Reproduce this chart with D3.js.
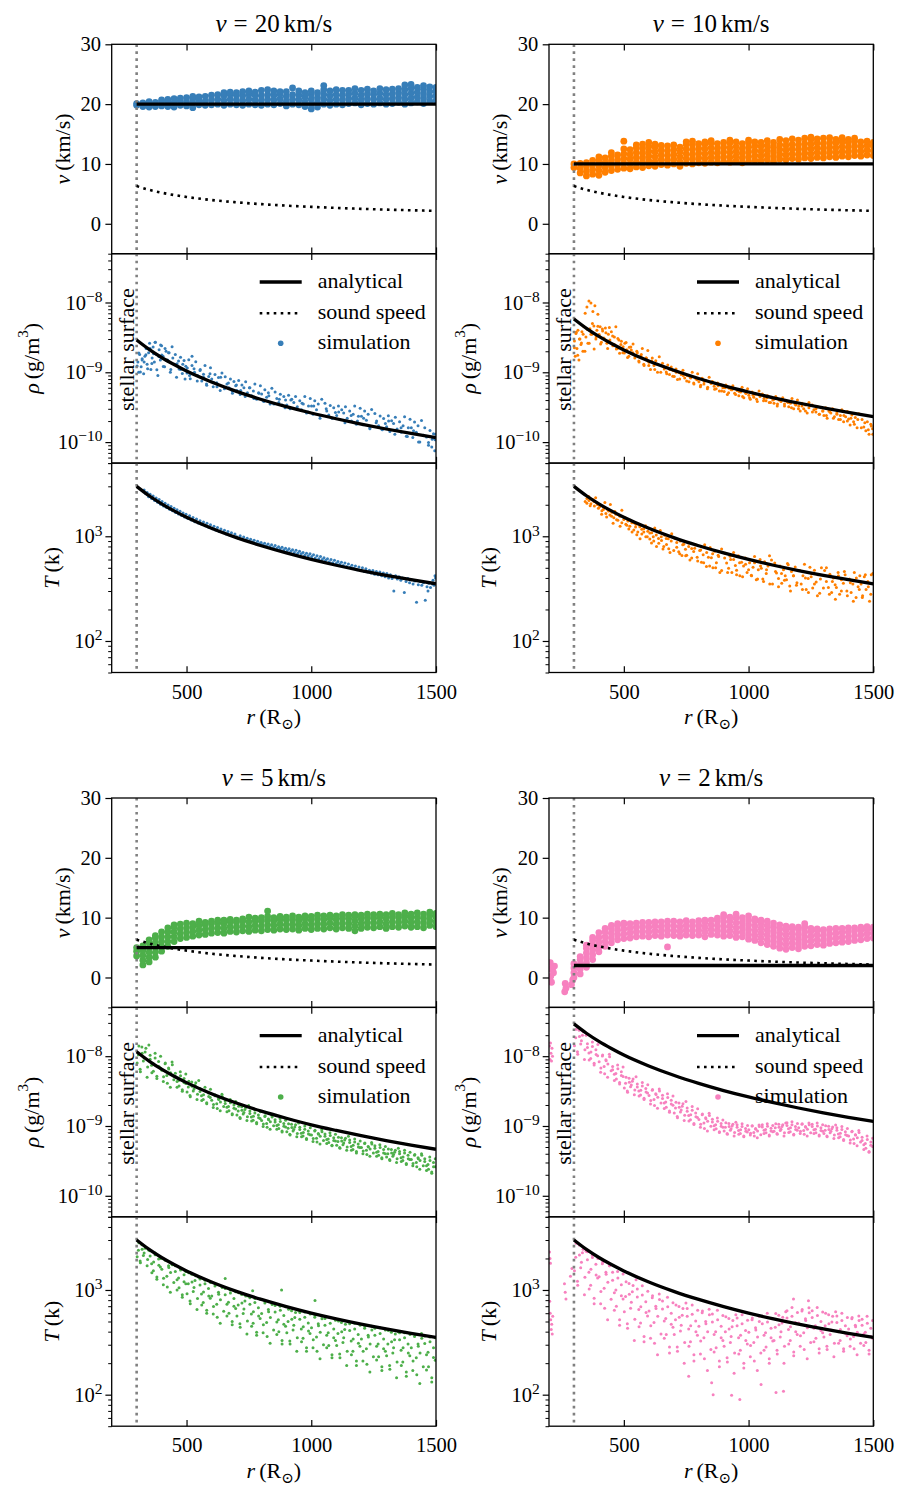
<!DOCTYPE html>
<html><head><meta charset="utf-8">
<script src="https://cdn.jsdelivr.net/npm/d3@7"></script>
<style>
body{margin:0;background:#fff}
text{font-family:"Liberation Serif","DejaVu Serif",serif;fill:#000}
</style></head>
<body><svg id="chart" width="900" height="1500"></svg>
<script>
// ---------------- DATA ----------------
const panelSpeeds = [20, 10, 5, 2];            // km/s
const panelColors = ["#377eb8", "#ff7f00", "#4daf4a", "#f781bf"];
const xTicks = [500, 1000, 1500];
const vTicks = [0, 10, 20, 30];
const rhoTicks = [1e-10, 1e-9, 1e-8];
const tTicks = [100, 1000];
const RHO_UNIT = 1e-9;   // density arrays are in units of 1e-9 g/m^3
const surfaceR = 300;

// analytical curves
const anR = [300,350,400,450,500,600,700,800,900,1000,1100,1200,1300,1400,1500];
const rhoAn20 = [2.9,2.13,1.63,1.29,1.04,0.725,0.533,0.408,0.322,0.261,0.216,0.181,0.154,0.133,0.116];
const rhoAn10 = [5.8,4.26,3.26,2.58,2.09,1.45,1.07,0.816,0.644,0.522,0.431,0.363,0.309,0.266,0.232];
const rhoAn5  = [11.6,8.52,6.52,5.16,4.18,2.9,2.13,1.63,1.29,1.04,0.863,0.725,0.618,0.533,0.464];
const rhoAn2  = [29,21.3,16.3,12.9,10.4,7.25,5.33,4.08,3.22,2.61,2.16,1.81,1.54,1.33,1.16];
const tAn  = [3000,2439,2043,1749,1521,1193,971,812,693,601,529,471,424,385,352];
const csAn = [6.3,5.68,5.2,4.81,4.49,3.97,3.59,3.28,3.03,2.83,2.65,2.5,2.37,2.26,2.16];

// simulated velocity: radius columns and the velocities seen in each column
const R_COLS = [300,325,350,375,400,425,450,475,500,525,550,575,600,625,650,675,700,725,750,775,800,825,850,875,900,925,950,975,1000,1025,1050,1075,1100,1125,1150,1175,1200,1225,1250,1275,1300,1325,1350,1375,1400,1425,1450,1475,1500];
const vSim20 = [[19.8,20.1],[19.6,20.2],[19.5,20.1,20.4],[19.6,20.3],[19.7,20.4,20.7],[19.6,20.3,20.8],[19.5,20.2,20.9],[19.8,20.5,21.0],[19.7,20.4,21.1],[19.4,20.2,20.9,21.3],
[19.9,20.6,21.2],[19.8,20.5,21.3],[19.9,20.7,21.5],[20.0,20.8,21.6],[19.8,20.6,21.4,21.9],[20.0,20.8,21.6,22.0],[19.9,20.7,21.5,21.9],[19.8,20.6,21.4,22.1],[20.0,20.8,21.6,22.2],[19.9,20.7,21.5,22.0],
[19.8,20.6,21.4,22.3],[20.0,20.8,21.6,22.4],[19.9,20.7,21.5,22.2],[20.1,20.9,21.7,22.1],[19.7,20.5,21.3,22.1],[20.0,20.8,21.6,22.7],[19.9,20.7,21.5,22.2],[19.6,20.4,21.2,21.9],[19.2,20.0,20.8,21.6,22.2],[19.5,20.3,21.1,21.9],
[20.0,20.8,21.6,22.4,23.1],[19.8,20.6,21.4,22.2],[20.0,20.8,21.6,22.4],[19.9,20.7,21.5,22.3],[20.1,20.9,21.7,22.3],[20.2,21.0,21.8,22.6],[19.9,20.7,21.5,22.3],[20.1,20.9,21.7,22.5],[20.0,20.8,21.6,22.2],[20.2,21.0,21.8,22.6],
[20.0,20.8,21.6,22.4],[20.1,20.9,21.7,22.5],[20.3,21.1,21.9,22.6],[20.0,20.8,21.6,22.4,23.2],[20.2,21.0,21.8,22.6,23.3],[20.4,21.2,22.0,22.8],[20.1,20.9,21.7,22.5,23.1],[20.5,21.3,22.1,22.9],[20.6,21.4,22.2,22.8]];
const vSim10 = [[9.4,10.0],[8.5,9.3,10.1],[8.0,8.8,9.6,10.2],[8.3,9.1,9.9,10.6],[8.1,8.9,9.7,10.5,11.2],[8.6,9.4,10.2,11.0],[8.9,9.7,10.5,11.3,11.9],[9.1,9.9,10.7,11.5],[9.3,10.1,10.9,11.7,12.5,13.8],[9.2,10.0,10.8,11.6,12.4],
[9.5,10.3,11.1,11.9,12.7,13.2],[9.4,10.2,11.0,11.8,12.6,13.3],[9.7,10.5,11.3,12.1,12.9,13.6],[9.6,10.4,11.2,12.0,12.8,13.3],[9.9,10.7,11.5,12.3,13.1],[9.8,10.6,11.4,12.2,13.0],[10.0,10.8,11.6,12.4,13.2],[9.6,10.4,11.2,12.0,12.8],[10.1,10.9,11.7,12.5,13.3,13.7],[10.0,10.8,11.6,12.4,13.2,13.8],
[10.2,11.0,11.8,12.6,13.4],[10.1,10.9,11.7,12.5,13.3,13.7],[10.3,11.1,11.9,12.7,13.5,13.9],[10.2,11.0,11.8,12.6,13.4],[10.4,11.2,12.0,12.8,13.6],[10.3,11.1,11.9,12.7,13.5,14.0],[10.5,11.3,12.1,12.9,13.7],[10.2,11.0,11.8,12.6,13.4],[10.4,11.2,12.0,12.8,13.6,14.0],[10.6,11.4,12.2,13.0,13.7],
[10.5,11.3,12.1,12.9,13.6],[10.7,11.5,12.3,13.1,13.9],[10.4,11.2,12.0,12.8,13.6],[10.8,11.6,12.4,13.2,14.1],[10.7,11.5,12.3,13.1,13.9],[10.9,11.7,12.5,13.3,14.2],[10.8,11.6,12.4,13.2,14.0],[11.0,11.8,12.6,13.4,14.3],[10.9,11.7,12.5,13.3,14.1,14.5],[11.1,11.9,12.7,13.5,14.2],
[11.0,11.8,12.6,13.4,14.3],[11.2,12.0,12.8,13.6,14.4],[11.1,11.9,12.7,13.5,14.1],[11.3,12.1,12.9,13.7,14.4],[11.2,12.0,12.8,13.6,14.1],[11.4,12.2,13.0,13.8,14.3],[11.3,12.1,12.9,13.7],[11.5,12.3,13.1,13.8],[11.4,12.2,13.0,13.6]];
const vSim5 = [[3.6,4.4,5.0],[2.1,2.9,3.7,4.5,5.3],[2.6,3.4,4.2,5.0,5.8,6.3],[3.4,4.2,5.0,5.8,6.6,7.0],[4.4,5.2,6.0,6.8,7.6],[5.2,6.0,6.8,7.6,8.3],[6.0,6.8,7.6,8.4,8.8],[6.5,7.3,8.1,8.9],[6.7,7.5,8.3,9.1],[6.9,7.7,8.5,9.0],
[7.1,7.9,8.7,9.4],[7.2,8.0,8.8,9.2],[7.4,8.2,9.0,9.4],[7.5,8.3,9.1,9.6],[7.4,8.2,9.0,9.6],[7.7,8.5,9.3,9.7],[7.6,8.4,9.2,9.6],[7.8,8.6,9.4,9.8],[7.7,8.5,9.3,10.1],[7.9,8.7,9.5,9.9],
[7.8,8.6,9.4,10.0],[8.0,8.8,9.6,10.2,11.1],[7.9,8.7,9.5,10.0],[8.1,8.9,9.7,10.2],[8.0,8.8,9.6,10.1],[8.1,8.9,9.7,10.3],[7.9,8.7,9.5,10.1],[8.2,9.0,9.8,10.3],[8.0,8.8,9.6,10.2],[8.2,9.0,9.8,10.4],
[8.1,8.9,9.7,10.3],[8.3,9.1,9.9,10.4],[8.1,8.9,9.7,10.3],[8.3,9.1,9.9,10.5],[8.2,9.0,9.8,10.4],[7.8,8.6,9.4,10.2,10.5],[8.2,9.0,9.8,10.4],[8.4,9.2,10.0,10.6],[8.3,9.1,9.9,10.5],[8.5,9.3,10.1,10.6],
[8.2,9.0,9.8,10.5],[8.5,9.3,10.1,10.7],[8.4,9.2,10.0,10.5],[8.6,9.4,10.2,10.8],[8.4,9.2,10.0,10.6],[8.5,9.3,10.1,10.8],[8.3,9.1,9.9,10.6],[8.7,9.5,10.3,10.9],[8.5,9.3,10.1,10.7]];
const vSim2 = [[0.0,0.8,1.6,2.3],[0.6,1.4,2.2,3.0,3.5],[1.7,2.5,3.3,4.1,4.9,5.4],[3.0,3.8,4.6,5.4,6.2,6.7],[4.3,5.1,5.9,6.7,7.5],[5.2,6.0,6.8,7.6,8.2],[5.8,6.6,7.4,8.2,8.7],[6.3,7.1,7.9,8.7,9.0],[6.5,7.3,8.1,8.9,9.1],[6.6,7.4,8.2,9.0],
[6.8,7.6,8.4,9.1],[6.9,7.7,8.5,9.2],[6.8,7.6,8.4,9.2],[7.0,7.8,8.6,9.3],[6.9,7.7,8.5,9.3],[5.1,7.1,7.9,8.7,9.4],[7.0,7.8,8.6,9.4],[6.9,7.7,8.5,9.3],[7.1,7.9,8.7,9.5],[7.0,7.8,8.6,9.3],
[7.1,7.9,8.7,9.5],[6.8,7.6,8.4,9.2,9.6],[7.2,8.0,8.8,9.6],[7.1,7.9,8.7,9.5,9.9],[6.9,7.7,8.5,9.3,10.1,10.5],[7.0,7.8,8.6,9.4,10.1],[6.7,7.5,8.3,9.1,9.9,10.6],[6.8,7.6,8.4,9.2,10.0],[6.4,7.2,8.0,8.8,9.6,10.3],[6.2,7.0,7.8,8.6,9.4,9.8],
[5.8,6.6,7.4,8.2,9.0,9.6],[5.5,6.3,7.1,7.9,8.7,9.4],[5.2,6.0,6.8,7.6,8.4,9.1],[4.9,5.7,6.5,7.3,8.1,8.8],[4.7,5.5,6.3,7.1,7.9,8.6],[5.0,5.8,6.6,7.4,8.2,8.5],[4.8,5.6,6.4,7.2,8.0,8.4],[5.2,6.0,6.8,7.6,8.4,9.0],[5.3,6.1,6.9,7.7,8.2],[5.5,6.3,7.1,7.9,8.1],
[5.4,6.2,7.0,7.8,8.0],[5.7,6.5,7.3,8.1],[5.8,6.6,7.4,8.2],[5.9,6.7,7.5,8.2],[6.0,6.8,7.6,8.3],[6.2,7.0,7.8,8.3],[6.3,7.1,7.9,8.4],[6.5,7.3,8.0,8.5],[6.6,7.4,8.1,8.4]];
const vSim2Inner = [[205,2.5],[205,1.4],[207,0.2],[210,-0.8],[215,1.6],[218,0.8],[222,1.9],[265,-1.0],[263,-2.4],[268,-1.8],[290,-1.2],[295,-0.4]];

// simulated density [r, rho / 1e-9]
const rhoSim20 = [[305,1.4],[308,1.0],[312,1.8],[318,1.2],[322,1.5],[328,0.95],[333,1.7],[338,2.2],[342,1.3],[348,1.9],[352,2.6],[357,1.1],[362,1.6],[366,2.3],[371,1.4],[375,2.7],[380,1.8],[385,0.9],[390,2.1],[395,1.5],[400,2.4],[406,1.7],[412,1.2],[418,2.0],[424,1.5],[430,1.9],[437,1.1],[445,1.6],[452,1.3],[460,0.85],[468,1.45],[476,1.1],[485,1.3],[494,0.8],[503,1.15],[512,0.9],[522,1.7],[532,1.0],[543,0.75],[555,1.1],[568,0.85],[580,0.68],[594,0.95],[608,0.72],[622,0.62],[637,0.85],[652,0.58],[668,0.7],[684,0.5],[700,0.66],[717,0.55],[735,0.45],[752,0.6],[770,0.42],[790,0.5],[810,0.38],[830,0.46],[850,0.35],[872,0.41],[895,0.31],[918,0.4],[940,0.3],[963,0.36],[987,0.27],[1010,0.33],[1035,0.24],[1060,0.3],[1085,0.22],[1110,0.27],[1135,0.19],[1160,0.24],[1185,0.2],[1210,0.22],[1235,0.16],[1260,0.19],[1285,0.15],[1310,0.2],[1335,0.13],[1360,0.16],[1385,0.12],[1410,0.145],[1430,0.1],[1450,0.125],[1470,0.09],[1485,0.11],[1495,0.075],[1498,0.13],
[302,1.23],[309,1.89],[315,1.01],[322,1.56],[330,1.4],[337,1.78],[344,1.12],[354,2.19],[361,1.34],[368,1.85],[374,2.7],[381,1.09],[389,1.68],[396,2.45],[401,1.77],[407,1.21],[414,2.19],[421,1.49],[428,1.91],[435,1.0],[442,2.33],[455,1.8],[462,1.32],[470,1.11],[476,1.64],[483,0.96],[490,1.48],[497,1.22],
[502,0.98],[509,1.51],[515,0.81],[522,1.25],[530,1.12],[537,1.42],[544,0.9],[554,1.06],[561,0.75],[568,0.94],[574,1.25],[581,0.65],[589,0.87],[596,1.16],[601,0.8],[607,0.62],[614,0.93],[621,0.71],[628,0.84],[635,0.55],[642,0.98],[655,0.86],[662,0.68],[670,0.6],[676,0.8],[683,0.54],[690,0.74],[697,0.64],
[702,0.55],[709,0.76],[715,0.48],[722,0.66],[730,0.6],[737,0.73],[744,0.51],[754,0.6],[761,0.46],[768,0.54],[774,0.68],[781,0.41],[789,0.51],[796,0.64],[801,0.49],[807,0.39],[814,0.56],[821,0.44],[828,0.51],[835,0.35],[842,0.59],[855,0.52],[862,0.42],[870,0.37],[876,0.485],[883,0.34],[890,0.45],[897,0.4],
[902,0.34],[909,0.47],[915,0.3],[922,0.41],[930,0.37],[937,0.45],[944,0.32],[954,0.39],[961,0.29],[968,0.35],[974,0.45],[981,0.26],[989,0.33],[996,0.42],[1001,0.33],[1007,0.25],[1014,0.39],[1021,0.29],[1028,0.35],[1035,0.22],[1042,0.41],[1055,0.36],[1062,0.28],[1070,0.245],[1076,0.335],[1083,0.22],[1090,0.31],[1097,0.265],
[1102,0.24],[1109,0.33],[1115,0.21],[1122,0.29],[1130,0.26],[1137,0.32],[1144,0.22],[1154,0.28],[1161,0.2],[1168,0.25],[1174,0.33],[1181,0.18],[1189,0.235],[1196,0.305],[1201,0.235],[1207,0.177],[1214,0.278],[1221,0.206],[1228,0.25],[1235,0.155],[1242,0.293],[1255,0.257],[1262,0.2],[1270,0.172],[1276,0.237],[1283,0.153],[1290,0.218],[1297,0.185],
[1302,0.166],[1309,0.238],[1315,0.142],[1322,0.202],[1330,0.184],[1337,0.226],[1344,0.154],[1354,0.196],[1361,0.138],[1368,0.172],[1374,0.23],[1381,0.121],[1389,0.161],[1396,0.213],[1401,0.16],[1407,0.116],[1414,0.194],[1421,0.138],[1428,0.171],[1435,0.1],[1442,0.204],[1455,0.16],[1462,0.118],[1470,0.099],[1476,0.146],[1483,0.085],[1490,0.132],[1497,0.108]];
const rhoSim10 = [[302,2.8],[305,1.7],[308,3.6],[312,2.2],[316,4.0],[320,1.5],[324,3.0],[328,2.5],[332,3.8],[336,2.0],[340,4.5],[345,7.0],[348,3.2],[352,8.6],[356,2.6],[360,10.5],[364,4.2],[368,9.8],[372,3.5],[376,7.4],[380,4.6],[384,9.0],[388,3.0],[392,4.0],[396,6.8],[400,3.4],[405,4.5],[410,2.7],[415,3.9],[420,3.1],[426,4.3],[432,2.6],[438,3.5],[444,2.9],[450,3.8],[456,2.4],[462,3.2],[468,4.5],[474,2.2],[480,2.9],[488,2.5],[496,1.9],[504,2.6],[512,2.1],[520,1.7],[528,2.3],[536,1.9],[544,1.6],[552,2.0],[560,1.45],[570,1.8],[580,1.3],[590,1.6],[600,1.25],[612,1.45],[624,1.1],[636,1.3],[648,1.0],[660,1.2],[672,0.95],[684,1.1],[696,0.88],[710,1.0],[724,0.8],[738,0.9],[752,0.75],[766,0.85],[780,0.7],[794,0.78],[808,0.65],[822,0.74],[836,0.61],[850,0.69],[864,0.57],[878,0.64],[892,0.54],[906,0.6],[920,0.51],[934,0.56],[948,0.48],[962,0.53],[976,0.45],[990,0.5],[1004,0.43],[1018,0.47],[1032,0.41],[1046,0.45],[1060,0.39],[1074,0.43],[1088,0.37],[1102,0.41],[1116,0.35],[1130,0.39],[1144,0.33],[1158,0.37],[1172,0.31],[1186,0.35],[1200,0.3],[1214,0.33],[1228,0.28],[1242,0.31],[1256,0.27],[1270,0.3],[1284,0.25],[1298,0.28],[1312,0.24],[1326,0.27],[1340,0.22],[1354,0.25],[1368,0.21],[1382,0.24],[1396,0.2],[1410,0.22],[1424,0.18],[1438,0.21],[1452,0.16],[1466,0.19],[1480,0.15],[1492,0.17],[1498,0.13],
[302,2.25],[309,3.75],[315,1.75],[322,3.0],[330,2.63],[337,3.5],[344,2.0],[354,4.1],[361,2.6],[368,3.5],[374,5.0],[381,2.15],[389,3.2],[396,4.55],[401,3.47],[407,2.55],[414,4.16],[421,3.0],[428,3.7],[435,2.2],[442,4.39],[455,3.32],[462,2.51],[470,2.15],[476,3.05],[483,1.88],[490,2.78],[497,2.33],
[502,1.89],[509,2.67],[515,1.63],[522,2.28],[530,2.09],[537,2.54],[544,1.76],[554,1.9],[561,1.4],[568,1.7],[574,2.2],[581,1.25],[589,1.6],[596,2.05],[601,1.39],[607,1.1],[614,1.6],[621,1.25],[628,1.46],[635,1.0],[642,1.67],[655,1.35],[662,1.11],[670,1.01],[676,1.27],[683,0.93],[690,1.19],[697,1.06],
[702,0.87],[709,1.11],[715,0.79],[722,0.99],[730,0.93],[737,1.07],[744,0.83],[754,0.9],[761,0.73],[768,0.83],[774,1.0],[781,0.68],[789,0.8],[796,0.95],[801,0.73],[807,0.62],[814,0.82],[821,0.68],[828,0.76],[835,0.58],[842,0.85],[855,0.74],[862,0.63],[870,0.58],[876,0.7],[883,0.54],[890,0.66],[897,0.6],
[902,0.53],[909,0.66],[915,0.48],[922,0.59],[930,0.56],[937,0.64],[944,0.5],[954,0.55],[961,0.46],[968,0.52],[974,0.61],[981,0.43],[989,0.5],[996,0.58],[1001,0.47],[1007,0.41],[1014,0.52],[1021,0.44],[1028,0.49],[1035,0.38],[1042,0.54],[1055,0.49],[1062,0.42],[1070,0.39],[1076,0.46],[1083,0.37],[1090,0.44],[1097,0.4],
[1102,0.36],[1109,0.45],[1115,0.33],[1122,0.4],[1130,0.38],[1137,0.43],[1144,0.35],[1154,0.38],[1161,0.32],[1168,0.36],[1174,0.42],[1181,0.3],[1189,0.34],[1196,0.4],[1201,0.33],[1207,0.28],[1214,0.36],[1221,0.3],[1228,0.34],[1235,0.26],[1242,0.37],[1255,0.34],[1262,0.29],[1270,0.27],[1276,0.32],[1283,0.25],[1290,0.31],[1297,0.28],
[1302,0.24],[1309,0.31],[1315,0.22],[1322,0.28],[1330,0.26],[1337,0.3],[1344,0.23],[1354,0.26],[1361,0.21],[1368,0.24],[1374,0.29],[1381,0.195],[1389,0.23],[1396,0.275],[1401,0.215],[1407,0.175],[1414,0.245],[1421,0.195],[1428,0.225],[1435,0.16],[1442,0.255],[1455,0.21],[1462,0.165],[1470,0.145],[1476,0.195],[1483,0.13],[1490,0.18],[1497,0.155]];
const rhoSim5 = [[302,8],[309,14],[315,6],[322,11],[330,9.5],[337,13],[344,7],[307,10.5],[314,6.5],[321,13.5],[327,8.5],[334,11.5],[342,5],[349,14.5],
[354,9.05],[361,5.8],[368,7.75],[374,11],[381,4.8],[389,7.1],[396,10],[354,10.35],[360,7.4],[367,6.1],[374,9.4],[381,5.15],[388,8.4],[395,6.8],
[401,6.3],[407,4.35],[414,7.77],[421,5.3],[428,6.8],[435,3.6],[442,8.26],[408,5.07],[415,8.0],[423,4.1],[429,6.54],[436,5.8],[443,7.52],[449,4.58],
[455,5.7],[462,4.35],[470,3.75],[476,5.25],[483,3.3],[490,4.8],[497,4.05],[455,5.1],[462,3.6],[468,4.5],[475,6.0],[483,3.15],[490,4.2],[497,5.55],
[502,3.06],[509,4.38],[515,2.62],[522,3.72],[530,3.39],[537,4.16],[544,2.84],[507,3.61],[514,2.73],[521,4.27],[527,3.17],[534,3.83],[542,2.4],[549,4.49],
[554,3.12],[561,2.32],[568,2.8],[574,3.6],[581,2.08],[589,2.64],[596,3.36],[554,3.44],[560,2.72],[567,2.4],[574,3.2],[581,2.16],[588,2.96],[595,2.56],
[601,2.34],[607,1.84],[614,2.71],[621,2.09],[628,2.46],[635,1.65],[642,2.84],[608,2.03],[615,2.78],[623,1.78],[629,2.4],[636,2.21],[643,2.65],[649,1.9],
[655,2.3],[662,1.85],[670,1.65],[676,2.15],[683,1.5],[690,2.0],[697,1.75],[655,2.1],[662,1.6],[668,1.9],[675,2.4],[683,1.45],[690,1.8],[697,2.25],
[702,1.44],[709,1.92],[715,1.28],[722,1.68],[730,1.56],[737,1.84],[744,1.36],[707,1.64],[714,1.32],[721,1.88],[727,1.48],[734,1.72],[742,1.2],[749,1.96],
[754,1.51],[761,1.18],[768,1.38],[774,1.7],[781,1.08],[789,1.31],[796,1.6],[754,1.64],[760,1.34],[767,1.21],[774,1.54],[781,1.12],[788,1.44],[795,1.28],
[801,1.2],[807,0.98],[814,1.37],[821,1.09],[828,1.26],[835,0.9],[842,1.42],[808,1.07],[815,1.4],[823,0.96],[829,1.23],[836,1.15],[843,1.34],[849,1.01],
[855,1.23],[862,1.02],[870,0.92],[876,1.16],[883,0.85],[890,1.09],[897,0.97],[855,1.14],[862,0.9],[868,1.04],[875,1.28],[883,0.82],[890,0.99],[897,1.21],
[902,0.83],[909,1.08],[915,0.74],[922,0.95],[930,0.89],[937,1.04],[944,0.78],[907,0.93],[914,0.76],[921,1.06],[927,0.85],[934,0.97],[942,0.7],[949,1.1],
[954,0.89],[961,0.7],[968,0.81],[974,1.0],[981,0.64],[989,0.77],[996,0.94],[954,0.96],[960,0.79],[967,0.72],[974,0.9],[981,0.66],[988,0.85],[995,0.75],
[1001,0.74],[1007,0.6],[1014,0.85],[1021,0.67],[1028,0.78],[1035,0.55],[1042,0.88],[1008,0.66],[1015,0.87],[1023,0.59],[1029,0.76],[1036,0.71],[1043,0.83],[1049,0.62],
[1055,0.77],[1062,0.64],[1070,0.58],[1076,0.73],[1083,0.53],[1090,0.68],[1097,0.61],[1055,0.71],[1062,0.56],[1068,0.65],[1075,0.8],[1083,0.52],[1090,0.62],[1097,0.76],
[1102,0.53],[1109,0.69],[1115,0.48],[1122,0.61],[1130,0.57],[1137,0.67],[1144,0.5],[1107,0.6],[1114,0.49],[1121,0.68],[1127,0.54],[1134,0.63],[1142,0.45],[1149,0.71],
[1154,0.58],[1161,0.45],[1168,0.53],[1174,0.65],[1181,0.41],[1189,0.5],[1196,0.61],[1154,0.63],[1160,0.51],[1167,0.46],[1174,0.59],[1181,0.43],[1188,0.55],[1195,0.49],
[1201,0.49],[1207,0.4],[1214,0.56],[1221,0.45],[1228,0.51],[1235,0.37],[1242,0.58],[1208,0.44],[1215,0.57],[1223,0.39],[1229,0.5],[1236,0.47],[1243,0.55],[1249,0.41],
[1255,0.52],[1262,0.42],[1270,0.38],[1276,0.49],[1283,0.35],[1290,0.46],[1297,0.4],[1255,0.48],[1262,0.37],[1268,0.43],[1275,0.54],[1283,0.34],[1290,0.41],[1297,0.51],
[1302,0.36],[1309,0.47],[1315,0.32],[1322,0.41],[1330,0.39],[1337,0.45],[1344,0.34],[1307,0.4],[1314,0.33],[1321,0.46],[1327,0.37],[1334,0.42],[1342,0.3],[1349,0.48],
[1354,0.4],[1361,0.31],[1368,0.36],[1374,0.45],[1381,0.28],[1389,0.34],[1396,0.42],[1354,0.43],[1360,0.35],[1367,0.32],[1374,0.41],[1381,0.29],[1388,0.38],[1395,0.33],
[1401,0.33],[1407,0.27],[1414,0.38],[1421,0.3],[1428,0.35],[1435,0.24],[1442,0.4],[1408,0.29],[1415,0.39],[1423,0.26],[1429,0.34],[1436,0.32],[1443,0.38],[1449,0.27],
[1455,0.34],[1462,0.27],[1470,0.24],[1476,0.32],[1483,0.22],[1490,0.3],[1497,0.26],[1455,0.31],[1462,0.23],[1468,0.28],[1475,0.36],[1483,0.21],[1490,0.26],[1497,0.34]];
const rhoSim2 = [[202,14],[204,9],[206,15.5],[208,11],[210,8.5],[212,13],[214,10],
[302,14.1],[309,24.3],[315,10.7],[322,19.2],[330,16.7],[337,22.6],[344,12.4],[307,18.4],[314,11.6],[321,23.5],[327,15],[334,20],[342,9],[349,20],
[354,13.3],[361,8.8],[368,11.5],[374,16],[381,7.45],[389,10.6],[396,14.7],[354,15.1],[360,11.1],[367,9.25],[374,13.75],[381,7.9],[388,12.4],[395,10.15],
[401,8.3],[407,5.9],[414,10.1],[421,7.1],[428,8.9],[435,5],[442,10.7],[408,6.8],[415,10.4],[423,5.6],[429,8.6],[436,7.7],[443,9.8],[449,6.2],
[455,7.1],[462,5.5],[470,4.7],[476,6.6],[483,4.2],[490,6.0],[497,5.1],[455,6.4],[462,4.5],[468,5.65],[475,7.5],[483,4.0],[490,5.3],[497,7.0],
[502,3.5],[509,5.0],[515,3.04],[522,4.24],[530,3.88],[537,4.72],[544,3.28],[507,4.1],[514,3.16],[521,4.84],[527,3.64],[534,4.36],[542,2.8],[549,5.08],
[554,3.63],[561,2.68],[568,3.25],[574,4.2],[581,2.4],[589,3.06],[596,3.9],[554,4.0],[560,3.16],[567,2.78],[574,3.73],[581,2.5],[588,3.44],[595,2.97],
[601,2.74],[607,2.06],[614,3.25],[621,2.4],[628,2.9],[635,1.8],[642,3.4],[608,2.31],[615,3.33],[623,1.97],[629,2.82],[636,2.57],[643,3.16],[649,2.14],
[655,2.76],[662,2.13],[670,1.85],[676,2.55],[683,1.64],[690,2.34],[697,1.99],[655,2.48],[662,1.78],[668,2.2],[675,2.9],[683,1.57],[690,2.06],[697,2.69],
[702,1.53],[709,2.19],[715,1.31],[722,1.86],[730,1.7],[737,2.08],[744,1.42],[707,1.81],[714,1.37],[721,2.14],[727,1.59],[734,1.92],[742,1.2],[749,2.25],
[754,1.63],[761,1.18],[768,1.45],[774,1.9],[781,1.05],[789,1.36],[796,1.77],[754,1.81],[760,1.41],[767,1.23],[774,1.68],[781,1.09],[788,1.54],[795,1.32],
[801,1.24],[807,0.96],[814,1.45],[821,1.1],[828,1.31],[835,0.85],[842,1.52],[808,1.06],[815,1.48],[823,0.92],[829,1.27],[836,1.17],[843,1.41],[849,0.99],
[855,1.25],[862,1.01],[870,0.91],[876,1.17],[883,0.83],[890,1.09],[897,0.96],[855,1.14],[862,0.88],[868,1.04],[875,1.3],[883,0.81],[890,0.99],[897,1.22],
[902,0.85],[909,1.11],[915,0.76],[922,0.98],[930,0.91],[937,1.06],[944,0.81],[907,0.96],[914,0.78],[921,1.09],[927,0.87],[934,1.0],[942,0.72],[949,1.13],
[954,0.96],[961,0.76],[968,0.88],[974,1.08],[981,0.7],[989,0.84],[996,1.02],[954,1.04],[960,0.86],[967,0.78],[974,0.98],[981,0.72],[988,0.92],[995,0.82],
[1001,0.88],[1007,0.74],[1014,1.0],[1021,0.81],[1028,0.92],[1035,0.68],[1042,1.03],[1008,0.79],[1015,1.01],[1023,0.72],[1029,0.9],[1036,0.85],[1043,0.98],[1049,0.75],
[1055,1.04],[1062,0.87],[1070,0.8],[1076,0.99],[1083,0.74],[1090,0.93],[1097,0.83],[1055,0.97],[1062,0.78],[1068,0.89],[1075,1.08],[1083,0.72],[1090,0.85],[1097,1.02],
[1102,0.84],[1109,1.08],[1115,0.76],[1122,0.96],[1130,0.9],[1137,1.04],[1144,0.8],[1107,0.94],[1114,0.78],[1121,1.06],[1127,0.86],[1134,0.98],[1142,0.72],[1149,1.1],
[1154,1.02],[1161,0.81],[1168,0.94],[1174,1.15],[1181,0.74],[1189,0.89],[1196,1.09],[1154,1.11],[1160,0.91],[1167,0.83],[1174,1.04],[1181,0.76],[1188,0.98],[1195,0.87],
[1201,0.94],[1207,0.78],[1214,1.06],[1221,0.86],[1228,0.98],[1235,0.72],[1242,1.1],[1208,0.84],[1215,1.08],[1223,0.76],[1229,0.96],[1236,0.9],[1243,1.04],[1249,0.8],
[1255,1.06],[1262,0.88],[1270,0.8],[1276,1.0],[1283,0.74],[1290,0.94],[1297,0.84],[1255,0.98],[1262,0.78],[1268,0.9],[1275,1.1],[1283,0.72],[1290,0.86],[1297,1.04],
[1302,0.78],[1309,1.01],[1315,0.7],[1322,0.89],[1330,0.84],[1337,0.97],[1344,0.74],[1307,0.87],[1314,0.72],[1321,0.99],[1327,0.8],[1334,0.91],[1342,0.66],[1349,1.03],
[1354,0.87],[1361,0.68],[1368,0.79],[1374,0.98],[1381,0.62],[1389,0.75],[1396,0.92],[1354,0.94],[1360,0.77],[1367,0.7],[1374,0.89],[1381,0.64],[1388,0.83],[1395,0.73],
[1401,0.72],[1407,0.57],[1414,0.83],[1421,0.65],[1428,0.75],[1435,0.52],[1442,0.86],[1408,0.63],[1415,0.84],[1423,0.56],[1429,0.74],[1436,0.68],[1443,0.81],[1449,0.59],
[1455,0.69],[1462,0.54],[1470,0.48],[1476,0.64],[1483,0.43],[1490,0.59],[1497,0.51],[1455,0.62],[1462,0.46],[1468,0.56],[1475,0.72],[1483,0.42],[1490,0.53],[1497,0.67]];

// simulated temperature [r, T in K]
const tSim20 = [[330,2760],[336,2560],[342,2620],[348,2380],[354,2520],[360,2290],[366,2420],[372,2200],[378,2320],[384,2110],[390,2240],[396,2020],[402,2150],[408,1950],[414,2070],[420,1880],[426,1990],[432,1810],[438,1920],[444,1750],[450,1850],[456,1690],[462,1790],[468,1630],[474,1730],[480,1580],[486,1670],[492,1530],[498,1620],[505,1480],[512,1570],[519,1430],[526,1510],[533,1380],[540,1460],[547,1340],[554,1410],[561,1300],[568,1370],[575,1260],[582,1330],[589,1220],[596,1290],[603,1180],[610,1250],[617,1150],[624,1210],[631,1110],[638,1175],[645,1090],[652,1140],[659,1050],[666,1110],[673,1030],[680,1080],[687,1000],[694,1050],[701,990],[708,960],[715,1010],[722,940],[729,985],[736,920],[743,960],[750,900],[757,935],[764,880],[771,915],[778,860],[785,895],[792,850],[799,870],[806,830],[813,860],[820,810],[827,845],[834,800],[841,830],[848,780],[855,815],[862,770],[869,795],[876,760],[883,785],[890,745],[897,770],[904,730],[911,760],[918,720],[925,745],[932,700],[939,735],[946,690],[953,720],[960,680],[967,700],[974,660],[981,690],[988,650],[995,680],[1002,640],[1009,665],[1016,620],[1023,650],[1030,610],[1037,640],[1044,600],[1051,625],[1058,590],[1065,610],[1072,570],[1079,600],[1086,560],[1093,590],[1100,550],[1107,575],[1114,540],[1121,565],[1128,525],[1135,555],[1142,515],[1149,545],[1156,505],[1163,530],[1170,495],[1177,520],[1184,480],[1191,510],[1198,470],[1205,500],[1212,460],[1219,490],[1226,455],[1233,475],[1240,445],[1247,470],[1254,435],[1261,460],[1268,430],[1275,455],[1282,420],[1289,445],[1296,410],[1303,440],[1310,400],[1317,430],[1324,395],[1331,300],[1338,420],[1345,390],[1352,410],[1359,380],[1366,400],[1373,290],[1380,370],[1387,395],[1394,360],[1401,385],[1408,350],[1415,375],[1422,235],[1429,345],[1436,370],[1443,340],[1450,360],[1457,245],[1464,330],[1468,300],[1471,355],[1478,325],[1485,350],[1492,340],[1498,400],[1496,420],[1488,380]];
const tSim10 = [[345,2150],[352,2300],[360,2200],[368,2050],[375,2250],[382,1950],[390,2100],[398,1850],[405,1950],[412,1750],[420,1880],[428,1650],[436,1780],[444,1600],[452,1700],[460,1500],[468,1620],[476,1420],[484,1550],[492,1350],[500,1450],[508,1300],[516,1400],[524,1250],[532,1350],[540,1150],[548,1300],[556,1100],[564,1230],[572,1050],[580,1180],[588,990],[596,1120],[604,940],[612,1080],[620,900],[630,1030],[640,860],[650,990],[660,800],[670,950],[680,760],[690,900],[700,730],[712,870],[724,680],[736,830],[748,650],[760,800],[772,620],[784,770],[796,580],[808,740],[820,560],[832,700],[844,520],[856,680],[868,500],[880,640],[892,470],[904,620],[916,450],[928,600],[940,700],[952,430],[964,560],[976,410],[988,540],[1000,480],[1012,420],[1024,560],[1036,390],[1048,520],[1060,370],[1072,480],[1084,650],[1096,350],[1108,460],[1120,330],[1132,440],[1144,380],[1156,550],[1168,300],[1180,420],[1192,340],[1204,470],[1216,310],[1228,400],[1240,290],[1252,440],[1264,350],[1276,270],[1288,390],[1300,320],[1312,500],[1324,280],[1336,370],[1348,250],[1360,420],[1372,300],[1384,460],[1396,270],[1408,360],[1420,240],[1432,400],[1444,310],[1456,260],[1468,430],[1480,330],[1490,280],[1498,440],
[352,2065],[359,2395],[365,1955],[372,2230],[380,2150],[387,2340],[394,2010],[404,1920],[411,1620],[418,1800],[424,2100],[431,1530],[439,1740],[446,2010],[451,1550],[457,1330],[464,1720],[471,1440],[478,1610],[485,1250],[492,1770],[505,1500],[512,1275],[520,1175],[526,1425],[533,1100],[540,1350],[547,1225],
[552,1035],[559,1305],[565,945],[572,1170],[580,1100],[587,1260],[594,990],[604,1075],[611,865],[618,990],[624,1200],[631,800],[639,950],[646,1135],[651,910],[657,755],[664,1025],[671,835],[678,945],[685,700],[692,1060],[705,955],[712,785],[720,710],[726,900],[733,655],[740,840],[747,750],
[752,660],[759,865],[765,595],[772,765],[780,715],[787,830],[794,630],[804,730],[811,565],[818,665],[824,830],[831,515],[839,630],[846,780],[851,625],[857,500],[864,720],[871,560],[878,660],[885,450],[892,755],[905,690],[912,555],[920,495],[926,645],[933,450],[940,600],[947,525],
[952,475],[959,650],[965,420],[972,565],[980,520],[987,620],[994,450],[1004,560],[1011,425],[1018,505],[1024,640],[1031,385],[1039,480],[1046,600],[1051,495],[1057,390],[1064,570],[1071,440],[1078,520],[1085,350],[1092,595],[1105,555],[1112,445],[1120,395],[1126,520],[1133,355],[1140,480],[1147,420],
[1152,385],[1159,535],[1165,335],[1172,460],[1180,420],[1187,510],[1194,360],[1204,470],[1211,350],[1218,420],[1224,540],[1231,310],[1239,395],[1246,505],[1251,410],[1257,320],[1264,475],[1271,365],[1278,430],[1285,285],[1292,500],[1305,470],[1312,370],[1320,325],[1326,435],[1333,290],[1340,400],[1347,345],
[1352,325],[1359,450],[1365,280],[1372,385],[1380,355],[1387,430],[1394,300],[1404,390],[1411,290],[1418,350],[1424,450],[1431,260],[1439,330],[1446,420],[1451,350],[1457,270],[1464,410],[1471,310],[1478,370],[1485,240],[1492,430]];
const tSim5 = [[302,2075],[309,2825],[315,1825],[322,2450],[330,2260],[337,2550],[344,1950],[307,2390],[314,1890],[321,2700],[327,2140],[334,2510],[342,1700],[349,2400],
[354,2110],[361,1460],[368,1850],[374,2250],[381,1265],[389,1720],[396,2000],[354,2370],[360,1785],[367,1525],[374,2175],[381,1330],[388,1980],[395,1655],
[401,1580],[407,1120],[414,1930],[421,1350],[428,1700],[435,950],[442,1760],[408,1295],[415,1930],[423,1065],[429,1640],[436,1470],[443,1740],[449,1180],
[455,1700],[462,1250],[470,1050],[476,1550],[483,900],[490,1400],[497,1150],[455,1500],[462,1000],[468,1300],[475,1600],[483,850],[490,1200],[497,1500],
[502,920],[509,1460],[515,740],[522,1190],[530,1055],[537,1370],[544,830],[507,1145],[514,785],[521,1415],[527,965],[534,1235],[542,650],[549,1320],
[554,1115],[561,720],[568,955],[574,1240],[581,600],[589,875],[596,1180],[554,1270],[560,915],[567,760],[574,1150],[581,640],[588,1035],[595,835],
[601,875],[607,590],[614,1090],[621,730],[628,950],[635,480],[642,1080],[608,695],[615,1130],[623,550],[629,910],[636,805],[643,1055],[649,625],
[655,1035],[662,730],[670,600],[676,935],[683,500],[690,830],[697,665],[655,900],[662,565],[668,765],[675,1000],[683,465],[690,700],[697,960],
[702,565],[709,940],[715,440],[722,750],[730,660],[737,875],[744,505],[707,720],[714,475],[721,905],[727,595],[734,785],[742,380],[749,870],
[754,730],[761,450],[768,620],[774,830],[781,370],[789,565],[796,815],[754,845],[760,590],[767,480],[774,760],[781,395],[788,675],[795,535],
[801,595],[807,390],[814,750],[821,490],[828,650],[835,310],[842,750],[808,465],[815,780],[823,360],[829,620],[836,545],[843,725],[849,415],
[855,710],[862,495],[870,400],[876,640],[883,330],[890,570],[897,450],[855,615],[862,375],[868,520],[875,700],[883,305],[890,470],[897,690],
[902,390],[909,655],[915,305],[922,525],[930,460],[937,610],[944,350],[907,500],[914,325],[921,635],[927,415],[934,545],[942,260],[949,640],
[954,525],[961,320],[968,445],[974,615],[981,260],[989,405],[996,590],[954,610],[960,425],[967,345],[974,550],[981,280],[988,485],[995,385],
[1001,435],[1007,280],[1014,550],[1021,355],[1028,475],[1035,220],[1042,560],[1008,335],[1015,570],[1023,260],[1029,455],[1036,395],[1043,530],[1049,300],
[1055,535],[1062,370],[1070,295],[1076,480],[1083,240],[1090,425],[1097,330],[1055,460],[1062,280],[1068,390],[1075,545],[1083,225],[1090,350],[1097,515],
[1102,295],[1109,505],[1115,225],[1122,400],[1130,350],[1137,470],[1144,260],[1107,385],[1114,245],[1121,490],[1127,315],[1134,420],[1142,190],[1149,495],
[1154,410],[1161,240],[1168,340],[1174,480],[1181,190],[1189,310],[1196,460],[1154,475],[1160,325],[1167,260],[1174,425],[1181,210],[1188,375],[1195,290],
[1201,340],[1207,210],[1214,430],[1221,275],[1228,370],[1235,165],[1242,450],[1208,260],[1215,450],[1223,195],[1229,355],[1236,305],[1243,415],[1249,230],
[1255,430],[1262,290],[1270,230],[1276,385],[1283,185],[1290,340],[1297,260],[1255,370],[1262,215],[1268,305],[1275,435],[1283,170],[1290,275],[1297,415],
[1302,235],[1309,410],[1315,175],[1322,320],[1330,280],[1337,380],[1344,205],[1307,305],[1314,190],[1321,395],[1327,250],[1334,335],[1342,145],[1349,400],
[1354,335],[1361,190],[1368,280],[1374,390],[1381,150],[1389,250],[1396,375],[1354,390],[1360,265],[1367,205],[1374,350],[1381,165],[1388,305],[1395,235],
[1401,280],[1407,170],[1414,360],[1421,225],[1428,305],[1435,128],[1442,385],[1408,210],[1415,375],[1423,155],[1429,290],[1436,250],[1443,345],[1449,185],
[1455,363],[1462,240],[1470,185],[1476,320],[1483,145],[1490,280],[1497,213],[1455,308],[1462,172],[1468,254],[1475,355],[1483,132],[1490,227],[1497,350],
[655,1290],[765,985],[881,1000],[1015,795]];
const tSim2 = [[202,2300],[204,2000],[206,1800],[203,780],[205,600],[207,520],[209,420],[211,470],[213,380],[215,560],[262,1150],[265,950],[268,820],[286,1350],[292,1600],
[302,1530],[309,2790],[315,1110],[322,2160],[330,1845],[337,2450],[344,1320],[307,2055],[314,1215],[321,2685],[327,1635],[334,2265],[342,900],[349,2350],
[354,1945],[361,1020],[368,1575],[374,2150],[381,740],[389,1390],[396,2000],[354,2315],[360,1480],[367,1110],[374,2040],[381,835],[388,1760],[395,1300],
[401,1335],[407,740],[414,1780],[421,1040],[428,1480],[435,520],[442,1700],[408,965],[415,1850],[423,670],[429,1410],[436,1185],[443,1705],[449,815],
[455,1480],[462,940],[470,700],[476,1300],[483,520],[490,1120],[497,820],[455,1240],[462,640],[468,1000],[475,1500],[483,460],[490,880],[497,1420],
[502,620],[509,1200],[515,430],[522,910],[530,765],[537,1105],[544,525],[507,865],[514,475],[521,1155],[527,670],[534,960],[542,330],[549,1250],
[554,855],[561,445],[568,690],[574,1100],[581,320],[589,610],[596,975],[554,1020],[560,650],[567,485],[574,895],[581,360],[588,770],[595,565],
[601,630],[607,345],[614,845],[621,490],[628,700],[635,240],[642,915],[608,455],[615,880],[623,310],[629,665],[636,560],[643,810],[649,380],
[655,785],[662,505],[670,375],[676,690],[683,285],[690,600],[697,440],[655,660],[662,345],[668,535],[675,850],[683,250],[690,470],[697,755],
[702,375],[709,720],[715,260],[722,550],[730,460],[737,665],[744,315],[707,520],[714,285],[721,695],[727,405],[734,575],[742,200],[749,750],
[754,560],[761,290],[768,455],[774,720],[781,210],[789,400],[796,640],[754,665],[760,425],[767,320],[774,585],[781,240],[788,505],[795,370],
[801,450],[807,245],[814,605],[821,350],[828,500],[835,170],[842,655],[808,325],[815,630],[823,220],[829,475],[836,400],[843,580],[849,270],
[855,590],[862,375],[870,280],[876,520],[883,210],[890,450],[897,330],[855,495],[862,255],[868,400],[875,640],[883,185],[890,350],[897,570],
[902,290],[909,555],[915,205],[922,425],[930,360],[937,510],[944,250],[907,400],[914,225],[921,535],[927,315],[934,445],[942,160],[949,580],
[954,455],[961,245],[968,370],[974,580],[981,180],[989,330],[996,515],[954,540],[960,350],[967,265],[974,475],[981,200],[988,410],[995,305],
[1001,395],[1007,230],[1014,520],[1021,315],[1028,435],[1035,170],[1042,560],[1008,295],[1015,540],[1023,210],[1029,415],[1036,355],[1043,500],[1049,250],
[1055,560],[1062,370],[1070,285],[1076,495],[1083,220],[1090,430],[1097,325],[1055,475],[1062,265],[1068,390],[1075,600],[1083,200],[1090,350],[1097,535],
[1102,330],[1109,595],[1115,245],[1122,465],[1130,400],[1137,550],[1144,290],[1107,440],[1114,265],[1121,575],[1127,355],[1134,485],[1142,200],[1149,620],
[1154,540],[1161,305],[1168,445],[1174,680],[1181,235],[1189,400],[1196,610],[1154,635],[1160,420],[1167,330],[1174,560],[1181,255],[1188,490],[1195,375],
[1201,485],[1207,290],[1214,630],[1221,390],[1228,530],[1235,220],[1242,675],[1208,365],[1215,650],[1223,270],[1229,510],[1236,435],[1243,605],[1249,315],
[1255,635],[1262,430],[1270,345],[1276,570],[1283,275],[1290,500],[1297,390],[1255,545],[1262,320],[1268,455],[1275,680],[1283,250],[1290,410],[1297,615],
[1302,355],[1309,600],[1315,270],[1322,475],[1330,415],[1337,560],[1344,310],[1307,455],[1314,290],[1321,580],[1327,375],[1334,495],[1342,230],[1349,620],
[1354,490],[1361,310],[1368,420],[1374,600],[1381,260],[1389,385],[1396,545],[1354,565],[1360,400],[1367,330],[1374,510],[1381,275],[1388,455],[1395,365],
[1401,425],[1407,290],[1414,530],[1421,360],[1428,460],[1435,240],[1442,565],[1408,340],[1415,545],[1423,275],[1429,445],[1436,395],[1443,510],[1449,310],
[1455,525],[1462,380],[1470,315],[1476,480],[1483,265],[1490,430],[1497,345],[1455,460],[1462,295],[1468,395],[1475,560],[1483,245],[1490,360],[1497,510],
[852,130],[858,100],[932,99],[965,90],[1050,125],[1110,105],[1140,108],[760,150],[1180,820],[1240,790]];

const vSims = [vSim20, vSim10, vSim5, vSim2];
const vExtras = [[], [], [], vSim2Inner];
const rhoSims = [rhoSim20, rhoSim10, rhoSim5, rhoSim2];
const tSims = [tSim20, tSim10, tSim5, tSim2];
const rhoAns = [rhoAn20, rhoAn10, rhoAn5, rhoAn2];

// ---------------- LAYOUT ----------------
const W = 324.3, H = 209.4;
const colX = [111.7, 549], rowY = [44.3, 798];
const svg = d3.select("#chart");

const x = d3.scaleLinear().domain([200, 1500]).range([0, W]);
const yV = d3.scaleLinear().domain([-5, 30]).range([H, 0]);
const yRho = d3.scaleLog().domain([5e-11, 5e-8]).range([H, 0]);
const yT = d3.scaleLog().domain([50, 5000]).range([H, 0]);

svg.append("defs").append("clipPath").attr("id", "clip")
  .append("rect").attr("x", 0).attr("y", 0).attr("width", W).attr("height", H);

function expLabel(sel, v) {
  const e = Math.round(Math.log10(v));
  sel.text("10");
  sel.append("tspan").attr("dy", "-0.5em").attr("font-size", 15.5)
    .text(String(e).replace("-", "\u2212"));
}

function yAxis(g, scale, majors, isLog) {
  const a = g.append("g").call(d3.axisLeft(scale).tickValues(majors).tickSize(6.3).tickSizeOuter(0)
      .tickPadding(isLog ? 3 : 4.5).tickFormat(d => isLog ? "" : d3.format("d")(d)));
  a.select(".domain").remove();
  a.selectAll(".tick line").attr("stroke-width", 1.2);
  a.selectAll(".tick text").attr("font-size", 20.5).attr("font-family", '"Liberation Serif", serif');
  if (isLog) {
    a.selectAll(".tick text").each(function(d){ expLabel(d3.select(this), d); });
    const minors = scale.ticks().filter(v => !majors.some(m => Math.abs(m - v) / m < 1e-6));
    const b = g.append("g").call(d3.axisLeft(scale).tickValues(minors).tickSize(3.5).tickSizeOuter(0).tickFormat(""));
    b.select(".domain").remove();
    b.selectAll(".tick line").attr("stroke-width", 1);
  }
}

function xTicksFor(g, withLabels) {
  const top = g.append("g").call(d3.axisTop(x).tickValues(xTicks).tickSize(-6.3).tickSizeOuter(0).tickFormat(""));
  top.select(".domain").remove();
  const bot = g.append("g").attr("transform", `translate(0,${H})`)
    .call(d3.axisBottom(x).tickValues(xTicks).tickSize(-6.3).tickSizeOuter(0).tickFormat(d => withLabels ? String(d) : ""));
  bot.select(".domain").remove();
  top.selectAll(".tick line").attr("stroke-width", 1.2);
  bot.selectAll(".tick line").attr("stroke-width", 1.2);
  bot.selectAll(".tick text").attr("y", 26).attr("dy", null).attr("font-size", 20.5)
    .attr("font-family", '"Liberation Serif", serif');
}

const lineGen = (yScale) => d3.line().x(d => x(d[0])).y(d => yScale(d[1])).curve(d3.curveMonotoneX);

panelSpeeds.forEach((speed, i) => {
  const color = panelColors[i];
  const g = svg.append("g").attr("transform", `translate(${colX[i % 2]},${rowY[Math.floor(i / 2)]})`);

  const title = g.append("text").attr("x", W / 2).attr("y", -12).attr("text-anchor", "middle").attr("font-size", 25);
  title.append("tspan").attr("font-style", "italic").text("v");
  title.append("tspan").attr("dx", 7).text("=");
  title.append("tspan").attr("dx", 7).text(String(speed));
  title.append("tspan").attr("dx", 4).text("km/s");

  const subs = [
    {y: yV, pts: []},
    {y: yRho, pts: rhoSims[i].map(d => [d[0], d[1] * RHO_UNIT])},
    {y: yT, pts: tSims[i]}
  ];
  R_COLS.forEach((r, j) => (vSims[i][j] || []).forEach(v => subs[0].pts.push([r, v])));
  vExtras[i].forEach(d => subs[0].pts.push(d));

  subs.forEach((s, k) => {
    const sg = g.append("g").attr("transform", `translate(0,${k * H})`);
    const plot = sg.append("g").attr("clip-path", "url(#clip)");

    plot.append("g").selectAll("circle").data(s.pts).join("circle")
      .attr("cx", d => x(d[0])).attr("cy", d => s.y(d[1]))
      .attr("r", k === 0 ? 3.4 : 1.5).attr("fill", color);

    plot.append("line").attr("x1", x(surfaceR)).attr("x2", x(surfaceR)).attr("y1", 0).attr("y2", H)
      .attr("stroke", "#808080").attr("stroke-width", 2.6).attr("stroke-dasharray", "2.6,4.4");

    let an;
    if (k === 0) an = [[anR[0], speed], [anR[anR.length - 1], speed]];
    else if (k === 1) an = anR.map((r, j) => [r, rhoAns[i][j] * RHO_UNIT]);
    else an = anR.map((r, j) => [r, tAn[j]]);
    plot.append("path").datum(an).attr("d", lineGen(s.y))
      .attr("fill", "none").attr("stroke", "#000").attr("stroke-width", 3.3);
    if (k === 0) {
      plot.append("path").datum(anR.map((r, j) => [r, csAn[j]])).attr("d", lineGen(s.y))
        .attr("fill", "none").attr("stroke", "#000").attr("stroke-width", 2.6).attr("stroke-dasharray", "2.6,4.4");
    }

    sg.append("rect").attr("width", W).attr("height", H).attr("fill", "none")
      .attr("stroke", "#000").attr("stroke-width", 1.3);

    if (k === 0) yAxis(sg, yV, vTicks, false);
    else if (k === 1) yAxis(sg, yRho, rhoTicks, true);
    else yAxis(sg, yT, tTicks, true);
    xTicksFor(sg, k === 2);

    if (k === 0) {
      const t = sg.append("text").attr("transform", `translate(-50,${H / 2}) rotate(-90)`)
        .attr("text-anchor", "middle").attr("dominant-baseline", "central").attr("font-size", 22);
      t.append("tspan").attr("font-style", "italic").text("v");
      t.append("tspan").attr("dx", 4).text("(km/s)");
    } else if (k === 1) {
      const t = sg.append("text").attr("transform", `translate(-81,${H / 2}) rotate(-90)`)
        .attr("text-anchor", "middle").attr("dominant-baseline", "central").attr("font-size", 22);
      t.append("tspan").attr("font-style", "italic").text("\u03C1");
      t.append("tspan").attr("dx", 4).text("(g/m");
      t.append("tspan").attr("dy", -8).attr("font-size", 15).text("3");
      t.append("tspan").attr("dy", 8).text(")");
      sg.append("text").attr("transform", `translate(${x(surfaceR) - 3},${96}) rotate(-90)`)
        .attr("text-anchor", "middle").attr("font-size", 22).text("stellar surface");
      const lg = sg.append("g");
      lg.append("line").attr("x1", 148).attr("x2", 190).attr("y1", 28.3).attr("y2", 28.3)
        .attr("stroke", "#000").attr("stroke-width", 3.3);
      lg.append("line").attr("x1", 148).attr("x2", 190).attr("y1", 59.6).attr("y2", 59.6)
        .attr("stroke", "#000").attr("stroke-width", 2.6).attr("stroke-dasharray", "2.6,4.4");
      lg.append("circle").attr("cx", 169).attr("cy", 89.6).attr("r", 2.8).attr("fill", color);
      [["analytical", 28.3], ["sound speed", 59.6], ["simulation", 89.6]].forEach(([txt, yy]) => {
        lg.append("text").attr("x", 206).attr("y", yy + 6).attr("font-size", 22).text(txt);
      });
    } else {
      const t = sg.append("text").attr("transform", `translate(-61,${H / 2}) rotate(-90)`)
        .attr("text-anchor", "middle").attr("dominant-baseline", "central").attr("font-size", 22);
      t.append("tspan").attr("font-style", "italic").text("T");
      t.append("tspan").attr("dx", 4).text("(k)");
      const xl = sg.append("text").attr("x", W / 2).attr("y", H + 51.5).attr("text-anchor", "middle").attr("font-size", 22);
      xl.append("tspan").attr("font-style", "italic").text("r");
      xl.append("tspan").attr("dx", 4).text("(R");
      xl.append("tspan").attr("dy", 5).attr("font-size", 15).text("\u2299");
      xl.append("tspan").attr("dy", -5).text(")");
    }
  });
});
</script>
</body></html>
